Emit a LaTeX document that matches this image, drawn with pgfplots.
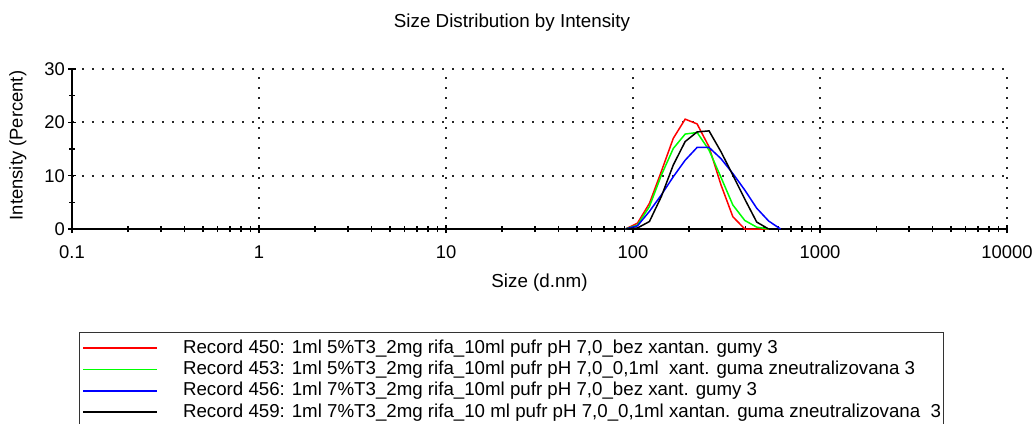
\documentclass[border=0pt]{standalone}
\usepackage{fontspec}
\setmainfont{Liberation Sans}
\usepackage{pgfplots}
\pgfplotsset{compat=1.18}

\pgfplotstableread{
size red green blue black
91.28 0 0 0 0
105.7 1.1 0.75 0.6 0.2
122.4 4.8 4.2 3.3 1.4
141.8 10.8 10.1 6.4 6.1
164.2 17.0 15.1 9.8 12.0
190.1 20.6 17.8 12.9 16.4
220.2 19.7 18.1 15.3 18.2
255.0 15.4 14.8 15.3 18.4
295.3 8.3 9.7 13.2 14.5
342.0 2.3 4.5 10.4 10.1
396.1 0 1.6 7.3 5.6
458.7 0 0.35 3.9 1.3
531.2 0 0 1.5 0
615.1 nan nan 0 nan
}\datatable

\begin{document}
\begin{tikzpicture}
\begin{axis}[
  at={(0pt,0pt)}, anchor=south west,
  scale only axis, width=467.5pt, height=80pt,
  xmode=log, xmin=0.1, xmax=10000, ymin=0, ymax=30,
  axis lines*=left,
  axis line style={line width=1pt, black},
  xtick={0.1,1,10,100,1000,10000},
  xticklabels={0.1,1,10,100,1000,10000},
  ytick={0,10,20,30},
  yticklabels={0,10,20,30},
  minor ytick={5,15,25},
  xtick pos=left, ytick pos=left,
  tick align=center,
  major tick length=4pt, minor tick length=3pt,
  every tick/.style={black, line width=0.8pt},
  grid=major,
  grid style={black!85, line width=0.9pt, dash pattern=on 0.9pt off 4.1pt},
  tick label style={font=\fontsize{9.2}{10}\selectfont},
  xticklabel style={yshift=-3pt},
  yticklabel style={xshift=2pt},
  title={Size Distribution by Intensity},
  title style={at={(axis description cs:0.4706,1.212)}, anchor=center, font=\fontsize{9.4}{10}\selectfont},
  xlabel={Size (d.nm)},
  xlabel style={at={(axis description cs:0.5,-0.3375)}, anchor=center, font=\fontsize{9.4}{10}\selectfont},
  ylabel={Intensity (Percent)},
  ylabel style={at={(axis description cs:-0.0578,0.522)}, anchor=center, font=\fontsize{9.2}{10}\selectfont},
  legend cell align=left,
  legend image code/.code={\draw[#1, line width=0.85pt] (0pt,0pt) -- (37pt,0pt); \path[draw=none] (37pt,0pt) -- (50pt,0pt);},
  legend style={at={(axis description cs:0.0075,-0.645)}, anchor=north west,
    draw=black!80, line width=0.6pt, inner xsep=1.3pt, inner ysep=3pt,
    font=\fontsize{9.35}{10}\selectfont, row sep=1.25pt,
    nodes={inner sep=0pt, text height=7.2pt, text depth=2.2pt}},
  unbounded coords=jump,
]
\addplot[red, line width=0.75pt] table[x=size, y=red] {\datatable};
\addlegendentry{Record 450: 1ml 5\%T3\_2mg rifa\_10ml pufr pH 7,0\_bez xantan. gumy 3}
\addplot[green, line width=0.75pt] table[x=size, y=green] {\datatable};
\addlegendentry{Record 453: 1ml 5\%T3\_2mg rifa\_10ml pufr pH 7,0\_0,1ml\ \ xant. guma zneutralizovana 3}
\addplot[blue, line width=0.75pt] table[x=size, y=blue] {\datatable};
\addlegendentry{Record 456: 1ml 7\%T3\_2mg rifa\_10ml pufr pH 7,0\_bez xant. gumy 3}
\addplot[black, line width=0.75pt] table[x=size, y=black] {\datatable};
\addlegendentry{Record 459: 1ml 7\%T3\_2mg rifa\_10 ml pufr pH 7,0\_0,1ml xantan. guma zneutralizovana\ \ 3}
\end{axis}
\pgfresetboundingbox
\path (-36pt,-97pt) rectangle (480pt,114.5pt);
\end{tikzpicture}
\end{document}
